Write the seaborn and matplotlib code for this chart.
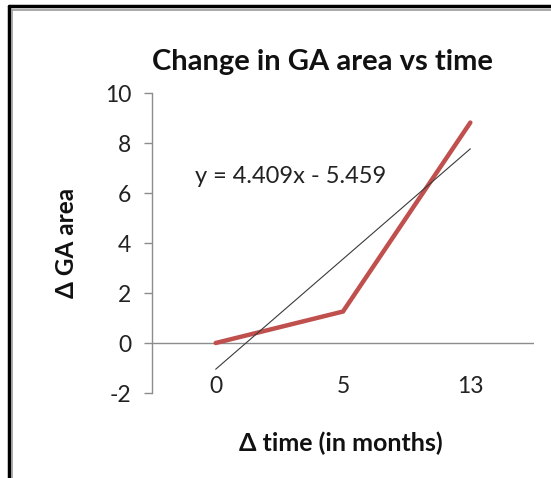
import numpy as np
import pandas as pd
import seaborn as sns
import matplotlib.pyplot as plt
from matplotlib.lines import Line2D

# data
months = ["0", "5", "13"]
ga_change = [0.0, 1.259, 8.818]
y_ticks = [-2, 0, 2, 4, 6, 8, 10]

sns.set_theme(style="white")
plt.rcParams['font.family'] = ['Lato', 'DejaVu Sans']

df = pd.DataFrame({"pos": np.arange(len(months)), "ga": ga_change})

# Excel-style linear trendline, x = 1..n
slope, icpt = np.polyfit(df["pos"] + 1, df["ga"], 1)

fig = plt.figure(figsize=(5.51, 4.78), dpi=100)
W, H = 551, 478
ax = fig.add_axes([152 / W, 1 - 393 / H, (534 - 152) / W, (393 - 93) / H])

sns.lineplot(data=df, x="pos", y="ga", ax=ax, color="#C0504D", lw=3.2,
             solid_capstyle="round", solid_joinstyle="miter")
sns.regplot(data=df, x="pos", y="ga", ax=ax, scatter=False, ci=None, truncate=True,
            line_kws={"color": "#3a3a3a", "lw": 0.8})

ax.axhline(0, color="#8c8c8c", lw=1, zorder=0)
ax.set_xlim(-0.5, len(months) - 0.5)
ax.set_ylim(-2, 10)
ax.set_yticks(y_ticks)
ax.set_yticklabels([str(t) for t in y_ticks], fontsize=16.5, color="#222222")
ax.set_xticks(df["pos"])
ax.set_xticklabels(months, fontsize=16.5, color="#222222")
ax.tick_params(axis="x", length=0, pad=-12)
ax.tick_params(axis="y", length=6, width=1, color="#8c8c8c", direction="out", left=True, pad=9)

for s in ["top", "right", "bottom"]:
    ax.spines[s].set_visible(False)
ax.spines["left"].set_color("#8c8c8c")
ax.spines["left"].set_linewidth(1)

ax.set_xlabel("")
ax.set_ylabel("")
fig.text(341 / W, 1 - 443 / H, "Δ time (in months)", ha="center", va="center",
         fontsize=18, fontweight="bold", color="#111111")
fig.text(66 / W, 1 - 243 / H, "Δ GA area", ha="center", va="center", rotation=90,
         fontsize=17.5, fontweight="bold", color="#111111")
fig.text(322 / W, 1 - 62 / H, "Change in GA area vs time", ha="center", va="center",
         fontsize=21, fontweight="bold", color="#111111")
ax.text(291 / W, 1 - 176 / H, f"y = {slope:.3f}x - {abs(icpt):.3f}", transform=fig.transFigure,
        ha="center", va="center", fontsize=17, color="#222222")

# outer frame (top and left edges visible)
fig.add_artist(Line2D([9 / W, 1], [1 - 6 / H, 1 - 6 / H], transform=fig.transFigure,
                      color="black", lw=2.5))
fig.add_artist(Line2D([9 / W, 9 / W], [0, 1 - 6 / H], transform=fig.transFigure,
                      color="black", lw=2.5))
fig.add_artist(Line2D([12 / W, 1], [1 - 9.5 / H, 1 - 9.5 / H], transform=fig.transFigure,
                      color="#9a9a9a", lw=1.2))
fig.add_artist(Line2D([12 / W, 12 / W], [0, 1 - 9.5 / H], transform=fig.transFigure,
                      color="#9a9a9a", lw=1.2))

fig.savefig("out.png", dpi=100)
